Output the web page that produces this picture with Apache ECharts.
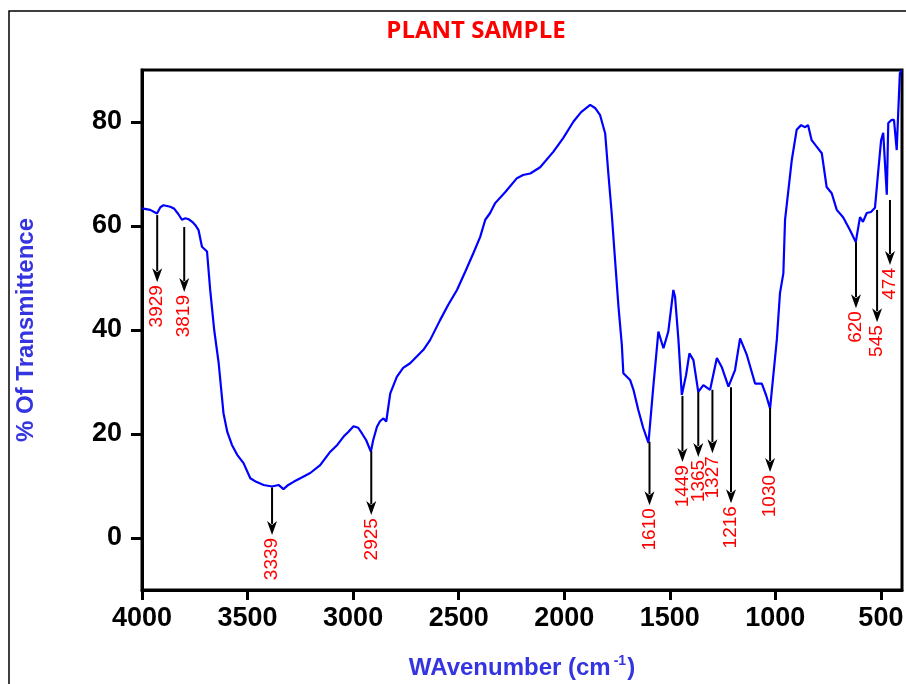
<!DOCTYPE html>
<html>
<head>
<meta charset="utf-8">
<script src="https://cdn.jsdelivr.net/npm/echarts@6/dist/echarts.min.js"></script>
<style>
html,body{margin:0;padding:0;background:#fff;}
#chart{width:906px;height:684px;}
</style>
</head>
<body>
<div id="chart"></div>
<script>
// Wavenumber (cm-1) and % transmittance
const wavenumber = [4000,3961,3929,3913,3898,3866,3847,3828,3811,3795,3779,3762,3748,3732,3716,3692,3677,3658,3637,3614,3596,3574,3549,3519,3487,3459,3424,3384,3353,3330,3307,3282,3250,3203,3156,3108,3075,3045,3023,2998,2976,2958,2938,2916,2905,2887,2872,2856,2843,2834,2824,2793,2763,2730,2667,2635,2588,2550,2508,2469,2430,2398,2374,2351,2327,2280,2224,2195,2161,2114,2051,2005,1956,1920,1877,1854,1830,1806,1791,1775,1758,1743,1727,1720,1688,1672,1649,1626,1601,1578,1554,1530,1507,1483,1475,1459,1443,1423,1407,1388,1365,1341,1309,1277,1254,1222,1191,1167,1135,1096,1064,1044,1025,993,978,962,954,922,899,878,859,845,828,807,780,757,733,709,679,646,619,599,585,567,547,528,512,499,489,472,465,449,438,425,418,410,400];
const transmittance = [63.4,63.1,62.4,63.6,64.0,63.7,63.3,62.3,61.2,61.5,61.3,60.8,60.2,59.2,56.0,55.1,47.7,40.0,33.7,24.0,20.4,17.9,16.0,14.4,11.5,10.8,10.2,9.9,10.2,9.4,10.2,10.8,11.5,12.5,14.0,16.6,17.9,19.5,20.4,21.5,21.2,20.1,18.8,16.6,18.8,21.4,22.5,23.0,22.4,25.0,27.8,31.0,32.7,33.6,36.2,38.1,41.9,44.8,47.7,51.2,54.8,57.9,61.2,62.5,64.4,66.5,69.2,69.8,70.1,71.3,74.3,76.9,80.1,81.9,83.3,82.7,81.3,77.8,70.1,62.4,52.8,44.5,37.1,31.7,30.4,28.5,24.6,21.2,18.3,29.1,39.7,36.5,39.7,47.7,46.4,38.1,27.5,31.3,35.5,34.2,28.1,29.4,28.5,34.6,32.9,29.1,32.3,38.4,35.2,29.7,29.7,27.5,24.9,38.1,47.1,50.9,61.2,72.7,78.5,79.4,79.0,79.4,76.5,75.4,74.0,67.5,66.3,63.1,61.7,59.2,56.9,61.7,60.8,62.5,62.7,63.5,70.8,76.5,77.9,66.0,79.8,80.4,80.4,74.6,81.7,89.4,90.0];

// Peak annotations: label text, arrow x position, arrow start and end (% T)
const peakLabels = ['3929','3819','3339','2925','1610','1449','1365','1327','1216','1030','620','545','474'];
const arrowX     = [3928,3800,3384,2914,1596,1440,1365,1298,1210,1025,618,518,457];
const arrowFrom  = [62.1,59.8,9.7,16.7,18.5,27.3,28.1,28.5,29.0,25.0,56.9,63.1,65.0];
const arrowTo    = [49.2,47.3,0.6,4.4,6.3,14.6,15.6,16.3,6.7,12.7,44.2,41.5,52.5];

// Axis ticks
const xTicks = [500,1000,1500,2000,2500,3000,3500,4000];
const yTicks = [0,20,40,60,80];

const spectrum = wavenumber.map((w, i) => [w, transmittance[i]]);
const arrows = arrowX.map((x, i) => [x, arrowFrom[i], arrowTo[i]]);

const chart = echarts.init(document.getElementById('chart'), null, {renderer: 'canvas'});
const fontMain = "'Liberation Sans', Arial, sans-serif";
const blue = '#3434e0';

chart.setOption({
  animation: false,
  backgroundColor: '#fff',
  graphic: [
    {type: 'rect', z: -10, shape: {x: 9, y: 11, width: 1200, height: 1200}, style: {fill: 'none', stroke: '#000', lineWidth: 1.5}},
    {type: 'text', x: 476, y: 31, style: {text: 'PLANT SAMPLE', fill: '#ff0000', font: "bold 24px 'Open Sans', sans-serif", align: 'center', verticalAlign: 'middle'}}
  ],
  grid: {left: 142, right: 4, top: 70, bottom: 94, containLabel: false, outerBoundsMode: 'none', show: true, borderColor: '#000', borderWidth: 3, backgroundColor: 'transparent'},
  xAxis: {
    type: 'value', inverse: true, min: 400, max: 4000,
    axisLine: {show: true, onZero: false, lineStyle: {color: '#000', width: 3}},
    axisTick: {show: true, inside: false, length: 10, lineStyle: {color: '#000', width: 3}, customValues: xTicks},
    axisLabel: {customValues: xTicks, formatter: v => String(v), color: '#000', fontWeight: 'bold', fontSize: 27, fontFamily: fontMain, margin: 15, hideOverlap: false},
    splitLine: {show: false},
    name: '{a|WAvenumber (cm}{s|-1}{a|)}',
    nameLocation: 'middle', nameGap: 64,
    nameTextStyle: {
      rich: {
        a: {fontSize: 24, fontWeight: 'bold', color: blue, fontFamily: fontMain, lineHeight: 28},
        s: {fontSize: 14, fontWeight: 'bold', color: blue, fontFamily: fontMain, verticalAlign: 'top', lineHeight: 28, padding: [0, 1, 10, 3]}
      }
    }
  },
  yAxis: {
    type: 'value', min: -10, max: 90,
    axisLine: {show: true, onZero: false, lineStyle: {color: '#000', width: 3}},
    axisTick: {show: true, inside: false, length: 11, lineStyle: {color: '#000', width: 3}, customValues: yTicks},
    axisLabel: {customValues: yTicks, formatter: v => String(v), color: '#000', fontWeight: 'bold', fontSize: 27, fontFamily: fontMain, margin: 20},
    splitLine: {show: false},
    name: '% Of Transmittence',
    nameLocation: 'middle', nameGap: 104, nameRotate: 90,
    nameTextStyle: {fontSize: 24, fontWeight: 'bold', color: blue, fontFamily: fontMain}
  },
  series: [
    {
      type: 'line', data: spectrum, showSymbol: false, symbol: 'none',
      lineStyle: {color: '#0000ff', width: 2.2}, z: 3, silent: true
    },
    {
      type: 'custom', data: arrows, z: 4, silent: true,
      renderItem: function (params, api) {
        const p0 = api.coord([api.value(0), api.value(1)]);
        const p1 = api.coord([api.value(0), api.value(2)]);
        const ah = 14, aw = 5;
        const label = peakLabels[params.dataIndex];
        return {
          type: 'group',
          children: [
            {type: 'line', shape: {x1: p0[0], y1: p0[1], x2: p1[0], y2: p1[1] - ah + 3}, style: {stroke: '#000', lineWidth: 2}},
            {type: 'polygon', shape: {points: [[p1[0] - aw, p1[1] - ah], [p1[0], p1[1] - ah + 4], [p1[0] + aw, p1[1] - ah], [p1[0], p1[1]]]}, style: {fill: '#000'}},
            {type: 'text', x: p1[0], y: p1[1] + 3, rotation: Math.PI / 2,
             style: {text: label, fill: '#ff0000', font: "19px 'Liberation Sans', Arial, sans-serif", align: 'right', verticalAlign: 'middle'}}
          ]
        };
      }
    }
  ]
});
</script>
</body>
</html>
